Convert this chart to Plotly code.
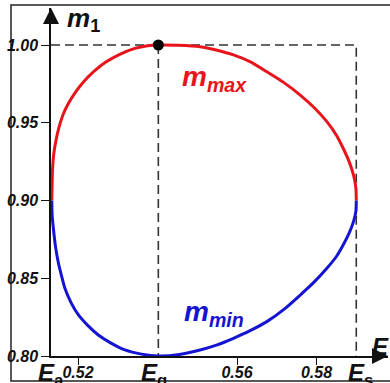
import plotly.graph_objects as go

# Characteristic energies on the E axis
E_a = 0.5134
E_q = 0.5402
E_s = 0.5900

# Upper branch m_max
max_E = [0.5134, 0.5135, 0.5136, 0.5139, 0.5144, 0.5152, 0.5162, 0.5175, 0.5192,
         0.5213, 0.5240, 0.5270, 0.5305, 0.5343, 0.5375, 0.5402,
         0.5450, 0.5507, 0.5550, 0.5591, 0.5635, 0.5675, 0.5718, 0.5759,
         0.5795, 0.5826, 0.5850, 0.5867, 0.5882, 0.5893, 0.5899, 0.5900]
max_m = [0.900, 0.912, 0.921, 0.930, 0.938, 0.947, 0.955, 0.962, 0.969,
         0.976, 0.983, 0.989, 0.9940, 0.9978, 0.9995, 1.000,
         0.9998, 0.9989, 0.9966, 0.9936, 0.9890, 0.9828, 0.9758, 0.9678,
         0.9595, 0.9507, 0.9420, 0.9336, 0.9250, 0.9164, 0.908, 0.900]

# Lower branch m_min
min_E = [0.5134, 0.5135, 0.5138, 0.5143, 0.5150, 0.5158, 0.5167, 0.5183, 0.5201,
         0.5225, 0.5251, 0.5283, 0.5318, 0.5360, 0.5402,
         0.5455, 0.5507, 0.5550, 0.5591, 0.5633, 0.5675, 0.5718, 0.5759,
         0.5795, 0.5826, 0.5850, 0.5867, 0.5882, 0.5893, 0.5899, 0.5900]
min_m = [0.900, 0.890, 0.882, 0.871, 0.8606, 0.852, 0.8435, 0.834, 0.8264,
         0.8195, 0.8135, 0.8083, 0.8039, 0.8012, 0.800,
         0.8010, 0.8039, 0.8072, 0.8114, 0.8163, 0.8221, 0.8300, 0.8392,
         0.8478, 0.8564, 0.8640, 0.8714, 0.8790, 0.8864, 0.893, 0.900]

x_ticks = [0.52, 0.56, 0.58]
x_tick_text = ["0.52", "0.56", "0.58"]
y_ticks = [0.80, 0.85, 0.90, 0.95, 1.00]
y_tick_text = ["0.80", "0.85", "0.90", "0.95", "1.00"]

W, H = 390, 383
ML, MR, MT, MB = 51, 2, 8, 27
x_lo = 0.5132
x_hi = x_lo + (W - ML - MR) / 3975
y_lo = 0.80
y_hi = y_lo + (H - MT - MB) / 1555

fig = go.Figure()

dash_style = dict(color="#333333", width=1.6, dash="9px,5px")
# guide lines: top of the box, right side at E_s, and vertical at E_q
fig.add_trace(go.Scatter(x=[x_lo, E_s, E_s], y=[1.00, 1.00, 0.80], mode="lines",
                         line=dash_style, hoverinfo="skip", showlegend=False))
fig.add_trace(go.Scatter(x=[E_q, E_q], y=[1.00, 0.80], mode="lines",
                         line=dash_style, hoverinfo="skip", showlegend=False))

fig.add_trace(go.Scatter(x=max_E, y=max_m, mode="lines", name="m_max",
                         line=dict(color="#e8141b", width=3, shape="spline", smoothing=0.6),
                         showlegend=False))
fig.add_trace(go.Scatter(x=min_E, y=min_m, mode="lines", name="m_min",
                         line=dict(color="#1414d2", width=3, shape="spline", smoothing=0.6),
                         showlegend=False))

fig.add_trace(go.Scatter(x=[E_q], y=[1.00], mode="markers",
                         marker=dict(color="black", size=11), showlegend=False))

tick_font = dict(family="Liberation Sans, Arial", size=16, color="#111111")
fig.update_xaxes(range=[x_lo, x_hi], showgrid=False, zeroline=False, automargin=False,
                 showline=True, linecolor="#111111", linewidth=1.5,
                 ticks="outside", ticklen=7, tickwidth=1.3, tickcolor="#111111",
                 tickvals=x_ticks, ticktext=[f"<b><i>{t}</i></b>" for t in x_tick_text],
                 tickfont=tick_font, ticklabelstandoff=-6)
fig.update_yaxes(range=[y_lo, y_hi], showgrid=False, zeroline=False, automargin=False,
                 showline=True, linecolor="#111111", linewidth=1.5,
                 ticks="outside", ticklen=8, tickwidth=1.3, tickcolor="#111111",
                 tickvals=y_ticks, ticktext=[f"<b><i>{t}</i></b>" for t in y_tick_text],
                 tickfont=tick_font, ticklabelstandoff=0)

# arrowheads on the axes
fig.add_annotation(x=x_hi, y=y_lo, ax=-14, ay=0, text="", showarrow=True,
                   arrowhead=2, arrowsize=2, arrowwidth=1.6, arrowcolor="#111111",
                   standoff=0)
fig.add_annotation(x=x_lo, y=y_hi, ax=0, ay=14, text="", showarrow=True,
                   arrowhead=2, arrowsize=2, arrowwidth=1.6, arrowcolor="#111111",
                   standoff=0)


def px_to_paper(px, py):
    return (px - ML) / (W - ML - MR), (H - MB - py) / (H - MT - MB)


def label(text, px, py, color="#111111", size=22):
    xp, yp = px_to_paper(px, py)
    fig.add_annotation(x=xp, y=yp, xref="paper", yref="paper", text=text,
                       showarrow=False, xanchor="center", yanchor="middle",
                       font=dict(family="Liberation Sans, Arial", size=size, color=color))


label("<b><i>m</i><sub>1</sub></b>", 83, 20, size=26)
label("<b><i>m</i><sub><i>max</i></sub></b>", 214, 78, color="#e8141b", size=28)
label("<b><i>m</i><sub><i>min</i></sub></b>", 214, 313, color="#1414d2", size=28)
label("<b><i>E</i><sub>a</sub></b>", 51, 374, size=24)
label("<b><i>E</i><sub>q</sub></b>", 154, 374, size=24)
label("<b><i>E</i><sub>s</sub></b>", 360, 374, size=24)
label("<b><i>E</i></b>", 380, 346, size=24)

# outer frame (right side runs off the page)
x0, y0 = px_to_paper(11, 381)
x1, y1 = px_to_paper(393, 5)
fig.add_shape(type="rect", xref="paper", yref="paper", x0=x0, y0=y0, x1=x1, y1=y1,
              line=dict(color="#222222", width=1.5), layer="below")

fig.update_layout(width=W, height=H, margin=dict(l=ML, r=MR, t=MT, b=MB),
                  plot_bgcolor="white", paper_bgcolor="white")

fig.write_html("out.html")
